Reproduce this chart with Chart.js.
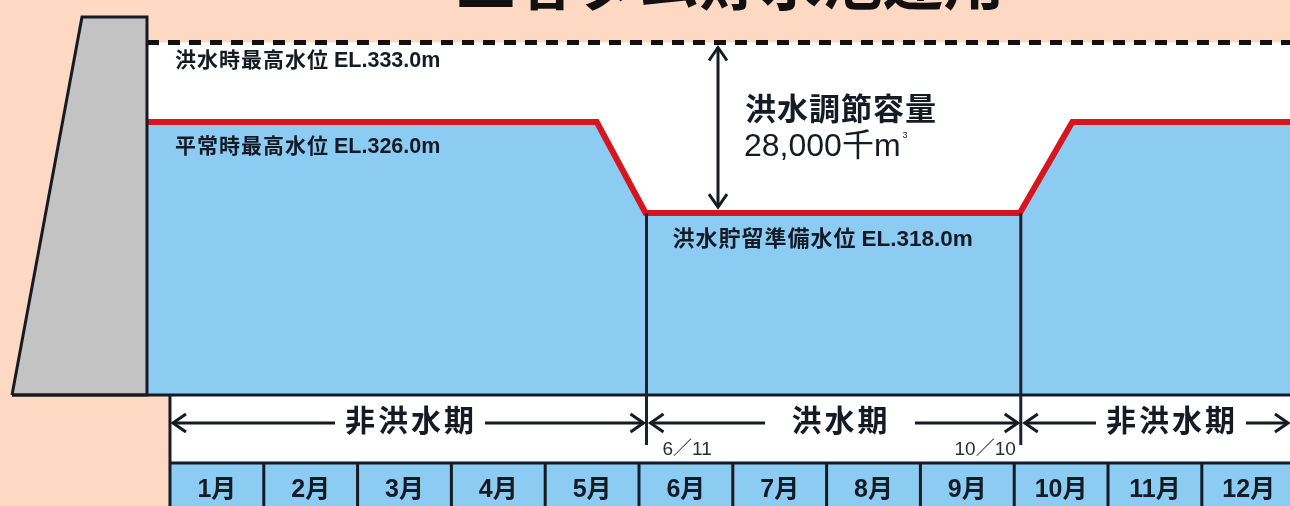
<!DOCTYPE html>
<html lang="ja">
<head>
<meta charset="utf-8">
<title>三春ダム貯水池運用</title>
<script src="https://cdn.jsdelivr.net/npm/chart.js@4.4.1/dist/chart.umd.min.js"></script>
<style>
  html, body { margin: 0; padding: 0; background: #fdd9c4; }
  #wrap { width: 1290px; height: 506px; }
</style>
</head>
<body>
<div id="wrap"><canvas id="chart" width="1290" height="506"></canvas></div>
<script>
// Data (x in months from 1 Jan, y in elevation EL.m)
const months = ['1月', '2月', '3月', '4月', '5月', '6月', '7月', '8月', '9月', '10月', '11月', '12月'];
const periods = ['非洪水期', '洪水期', '非洪水期'];
const switchDates = ['6／11', '10／10'];
const switchMonth = [5.08, 9.07];
const levelMonth = [-0.245, 4.55, 5.07, 9.06, 9.62, 11.94];
const levelEL = [326.0, 326.0, 318.0, 318.0, 326.0, 326.0];
const floodMaxEL = 333.0;
const normalMaxEL = 326.0;
const prepEL = 318.0;
const baseEL = 302.0;
const damMonth = [-1.684, -0.938, -0.245, -0.245, -1.684];
const damEL = [302.0, 335.24, 335.24, 302.0, 302.0];
const levelNames = ['洪水時最高水位', '平常時最高水位', '洪水貯留準備水位'];
const levelValues = ['EL.333.0m', 'EL.326.0m', 'EL.318.0m'];
const capacityLabel = '洪水調節容量';
const capacityValue = '28,000千m';
const titleText = '三春ダム貯水池運用';

const INK = '#161a24';
const BLUE = '#8dccf2';
const RED = '#d8141f';
const FONT = '"Liberation Sans", "Noto Sans CJK JP", sans-serif';

const pts = (xs, ys) => xs.map((x, i) => ({ x, y: ys[i] }));

function arrowHead(ctx, x, y, dx, dy) {
  // open V head pointing in direction (dx, dy)
  const len = 13, half = 9;
  const px = -dy, py = dx;
  ctx.beginPath();
  ctx.moveTo(x - dx * len + px * half, y - dy * len + py * half);
  ctx.lineTo(x, y);
  ctx.lineTo(x - dx * len - px * half, y - dy * len - py * half);
  ctx.stroke();
}

function hline(ctx, x1, x2, y) {
  ctx.beginPath();
  ctx.moveTo(x1, y);
  ctx.lineTo(x2, y);
  ctx.stroke();
}

// name in CJK with a little tracking, then the EL value
function levelText(ctx, i, x, y, size) {
  ctx.font = 'bold ' + size + 'px ' + FONT;
  ctx.letterSpacing = '1px';
  ctx.fillText(levelNames[i], x, y);
  const w = ctx.measureText(levelNames[i]).width;
  ctx.letterSpacing = '0px';
  ctx.font = 'bold ' + (size + 0.5) + 'px ' + FONT;
  ctx.fillText(levelValues[i], x + w + 5, y);
}

// Timeline band and month boxes under the reservoir
const timeline = {
  id: 'timeline',
  beforeDatasetsDraw(chart) {
    const { ctx, width, height } = chart;
    const { x, y } = chart.scales;
    const left = x.getPixelForValue(0);
    const top = y.getPixelForValue(baseEL);
    const rowTop = 463;
    ctx.save();
    ctx.fillStyle = '#ffffff';
    ctx.fillRect(left, top, width - left, rowTop - top);
    ctx.fillStyle = BLUE;
    ctx.fillRect(left, rowTop, width - left, height - rowTop);
    ctx.strokeStyle = INK;
    ctx.lineWidth = 3;
    hline(ctx, left, width, rowTop);
    for (let i = 0; i <= months.length; i++) {
      const px = x.getPixelForValue(i);
      ctx.beginPath();
      ctx.moveTo(px, i === 0 ? top : rowTop);
      ctx.lineTo(px, height);
      ctx.stroke();
    }
    ctx.fillStyle = INK;
    ctx.font = 'bold 25px ' + FONT;
    ctx.textAlign = 'center';
    ctx.textBaseline = 'middle';
    months.forEach((m, i) => ctx.fillText(m, x.getPixelForValue(i + 0.5), 490));
    ctx.restore();
  }
};

// Labels, arrows and title
const notes = {
  id: 'notes',
  afterDatasetsDraw(chart) {
    const { ctx, width } = chart;
    const { x, y } = chart.scales;
    ctx.save();
    ctx.fillStyle = INK;
    ctx.strokeStyle = INK;
    ctx.textBaseline = 'middle';
    ctx.textAlign = 'left';

    // water level labels
    const x0 = x.getPixelForValue(levelMonth[0]) + 28;
    levelText(ctx, 0, x0, y.getPixelForValue(floodMaxEL) + 19, 21);
    levelText(ctx, 1, x0, y.getPixelForValue(normalMaxEL) + 25, 21);
    levelText(ctx, 2, x.getPixelForValue(switchMonth[0]) + 26, y.getPixelForValue(prepEL) + 27, 22);

    // flood control capacity arrow
    const ax = 718;
    const aTop = y.getPixelForValue(floodMaxEL) + 5;
    const aBot = y.getPixelForValue(prepEL) - 6;
    ctx.lineWidth = 3;
    ctx.beginPath();
    ctx.moveTo(ax, aTop + 1);
    ctx.lineTo(ax, aBot - 1);
    ctx.stroke();
    arrowHead(ctx, ax, aTop, 0, -1);
    arrowHead(ctx, ax, aBot, 0, 1);

    ctx.letterSpacing = '1px';
    ctx.font = 'bold 31px ' + FONT;
    ctx.fillText(capacityLabel, 745, 111);
    ctx.letterSpacing = '0px';
    ctx.font = '32px ' + FONT;
    ctx.fillText(capacityValue, 744, 147);
    const vw = ctx.measureText(capacityValue).width;
    ctx.font = '9px ' + FONT;
    ctx.fillText('3', 744 + vw + 2, 136);

    // period arrows
    const bounds = [x.getPixelForValue(0), x.getPixelForValue(switchMonth[0]), x.getPixelForValue(switchMonth[1]), width];
    const centers = [409, 839, 1170];
    const ay = 423;
    ctx.font = 'bold 30px ' + FONT;
    ctx.letterSpacing = '3px';
    ctx.textAlign = 'center';
    ctx.lineWidth = 3;
    periods.forEach((p, i) => {
      const l = bounds[i] + (i === 0 ? 3 : 4);
      const r = bounds[i + 1] - (i === 2 ? 2 : 3);
      const c = centers[i];
      hline(ctx, l, c - 74, ay);
      hline(ctx, c + 76, r, ay);
      arrowHead(ctx, l, ay, -1, 0);
      arrowHead(ctx, r, ay, 1, 0);
      ctx.fillText(p, c + 2, ay);
    });

    // switch dates
    ctx.letterSpacing = '0px';
    ctx.font = '19px ' + FONT;
    ctx.fillStyle = '#2a2d33';
    ctx.textAlign = 'left';
    ctx.fillText(switchDates[0], x.getPixelForValue(switchMonth[0]) + 16, 450);
    ctx.textAlign = 'right';
    ctx.fillText(switchDates[1], x.getPixelForValue(switchMonth[1]) - 5, 450);

    // title (cropped at the top edge)
    ctx.fillStyle = '#111111';
    ctx.font = 'bold 61px ' + FONT;
    ctx.textAlign = 'center';
    ctx.textBaseline = 'alphabetic';
    ctx.fillText(titleText, 730, 5);
    ctx.restore();
  }
};

const ctx = document.getElementById('chart').getContext('2d');
new Chart(ctx, {
  type: 'line',
  data: {
    datasets: [
      {
        label: '切替',
        data: [{ x: switchMonth[0], y: prepEL }, { x: switchMonth[0], y: 297.6 }, { x: NaN, y: NaN },
               { x: switchMonth[1], y: prepEL }, { x: switchMonth[1], y: 297.6 }],
        borderColor: '#1b2233',
        borderWidth: 3,
        pointRadius: 0,
        fill: false,
        spanGaps: false,
        order: 1
      },
      {
        label: '底',
        data: [{ x: damMonth[0], y: baseEL }, { x: 11.94, y: baseEL }],
        borderColor: INK,
        borderWidth: 3,
        pointRadius: 0,
        fill: false,
        order: 2
      },
      {
        label: 'ダム',
        data: pts(damMonth, damEL),
        borderColor: INK,
        borderWidth: 3,
        backgroundColor: '#c3c3c3',
        pointRadius: 0,
        fill: 'shape',
        order: 3
      },
      {
        label: '貯水位',
        data: pts(levelMonth, levelEL),
        borderColor: RED,
        borderWidth: 6,
        borderJoinStyle: 'miter',
        backgroundColor: BLUE,
        pointRadius: 0,
        fill: { value: baseEL },
        order: 4
      },
      {
        label: '洪水時最高水位',
        data: [{ x: levelMonth[0], y: floodMaxEL }, { x: 11.94, y: floodMaxEL }],
        borderColor: '#111111',
        borderWidth: 5,
        borderDash: [12, 9],
        backgroundColor: '#ffffff',
        pointRadius: 0,
        fill: { value: baseEL },
        order: 5
      }
    ]
  },
  options: {
    responsive: false,
    animation: false,
    events: [],
    layout: { padding: 0 },
    plugins: { legend: { display: false }, tooltip: { enabled: false }, title: { display: false } },
    scales: {
      x: { type: 'linear', min: -1.812, max: 11.94, display: false },
      y: { type: 'linear', min: 292.23, max: 336.74, display: false }
    }
  },
  plugins: [timeline, notes]
});
</script>
</body>
</html>
